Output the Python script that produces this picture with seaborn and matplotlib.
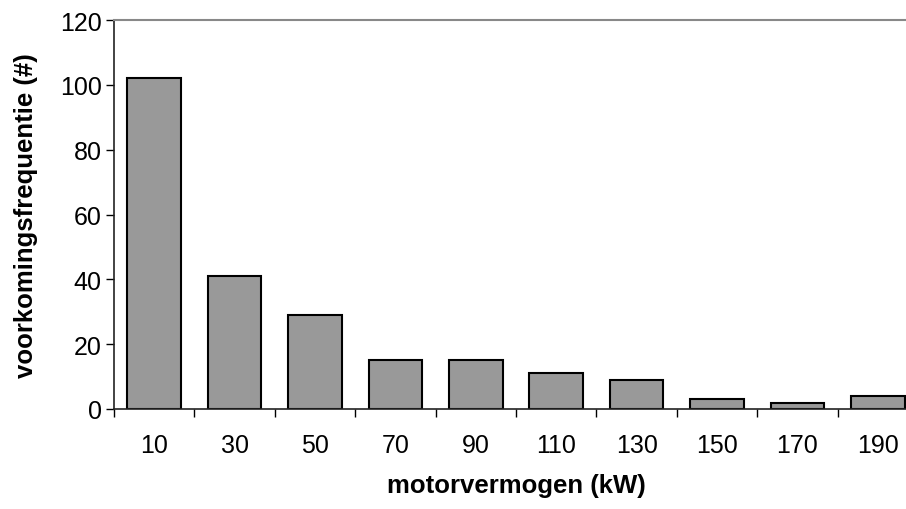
import matplotlib
matplotlib.use("Agg")
import matplotlib.pyplot as plt
import seaborn as sns
import numpy as np
import pandas as pd

# motor power classes (kW) and how often they occur
power_classes = ["10", "30", "50", "70", "90", "110", "130", "150", "170", "190"]
frequency = [102, 41, 29, 15, 15, 11, 9, 3, 2, 4]

sns.set_style("white")
plt.rcParams["font.family"] = ["Liberation Sans", "DejaVu Sans"]
plt.rcParams["text.color"] = "black"
plt.rcParams["axes.labelcolor"] = "black"
plt.rcParams["xtick.color"] = "black"
plt.rcParams["ytick.color"] = "black"

df = pd.DataFrame({"power": power_classes, "freq": frequency})

fig = plt.figure(figsize=(9.06, 5.10), dpi=100)
# plot area runs slightly past the right edge, like the original
ax = fig.add_axes([114 / 906, 100 / 510, 804 / 906, 389 / 510])

sns.barplot(data=df, x="power", y="freq", color="#999999", saturation=1,
            edgecolor="black", linewidth=1.5, width=0.665, ax=ax)

ax.set_xlim(-0.5, len(power_classes) - 0.5)
ax.set_ylim(0, 120)
ax.set_yticks(np.arange(0, 121, 20))

# category boundaries carry the x tick marks, labels sit under the bars
ax.set_xticks(np.arange(-0.5, len(power_classes), 1), minor=True)
ax.tick_params(axis="x", which="major", length=0, pad=17.5, labelsize=18)
ax.tick_params(axis="x", which="minor", length=5.8, width=1, direction="out")
ax.tick_params(axis="y", length=5.8, width=1, direction="out", labelsize=18, pad=3)
ax.xaxis.set_ticks_position("bottom")
ax.yaxis.set_ticks_position("left")

for side in ["left", "bottom"]:
    ax.spines[side].set_color("#222222")
    ax.spines[side].set_linewidth(1.2)
ax.spines["top"].set_color("#888888")
ax.spines["top"].set_linewidth(1.5)
ax.spines["right"].set_visible(False)

ax.set_xlabel("motorvermogen (kW)", fontsize=18.5, fontweight="bold", labelpad=11)
ax.set_ylabel("voorkomingsfrequentie (#)", fontsize=18.5, fontweight="bold", labelpad=16)

fig.savefig("out.png", dpi=100)
